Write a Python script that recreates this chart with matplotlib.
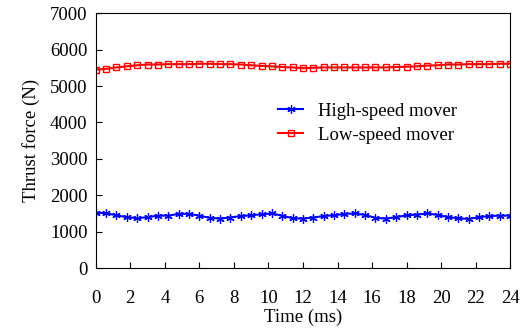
import numpy as np
import matplotlib.pyplot as plt

plt.rcParams['font.family'] = ['Liberation Serif', 'DejaVu Serif']

# Time axis (ms), sampled every 0.6 ms
time_ms = np.arange(41) * 0.6

high_speed = [1520, 1510, 1450, 1400, 1370, 1400, 1440, 1440, 1490, 1490,
              1440, 1380, 1360, 1390, 1430, 1450, 1480, 1500, 1440, 1370,
              1360, 1390, 1430, 1450, 1490, 1500, 1460, 1380, 1360, 1400,
              1450, 1470, 1500, 1460, 1400, 1370, 1350, 1400, 1430, 1440, 1440]

low_speed = [5450, 5470, 5510, 5540, 5570, 5590, 5590, 5600, 5600, 5600,
             5610, 5610, 5600, 5600, 5590, 5570, 5550, 5540, 5520, 5510,
             5490, 5500, 5510, 5510, 5510, 5510, 5510, 5510, 5510, 5520,
             5530, 5540, 5560, 5570, 5590, 5590, 5600, 5600, 5600, 5610, 5610]

xticks = list(range(0, 25, 2))
yticks = list(range(0, 7001, 1000))

fig = plt.figure(figsize=(5.32, 3.29), dpi=100)
ax = fig.add_axes([0.180, 0.185, 0.779, 0.775])

ax.plot(time_ms, high_speed, color='blue', lw=1.5, marker=(6, 2, 0),
        ms=6, mew=0.9, label='High-speed mover')
ax.plot(time_ms, low_speed, color='red', lw=1.5, marker='s', ms=5,
        mfc='none', mew=1.0, label='Low-speed mover')

ax.set_xlim(0, 24)
ax.set_ylim(0, 7000)
ax.set_xticks(xticks)
ax.set_yticks(yticks)
ax.tick_params(direction='in', labelsize=13.5, length=4)
ax.tick_params(axis='x', pad=16)
ax.tick_params(axis='y', pad=6)
ax.set_xlabel('Time (ms)', fontsize=13.5, labelpad=1)
ax.set_ylabel('Thrust force (N)', fontsize=13.5, labelpad=7)

ax.legend(loc='upper left', bbox_to_anchor=(0.4, 0.715), frameon=False,
          fontsize=13.5, handlelength=1.3, handletextpad=0.8, labelspacing=0.35)

fig.savefig('out.png', dpi=100)
